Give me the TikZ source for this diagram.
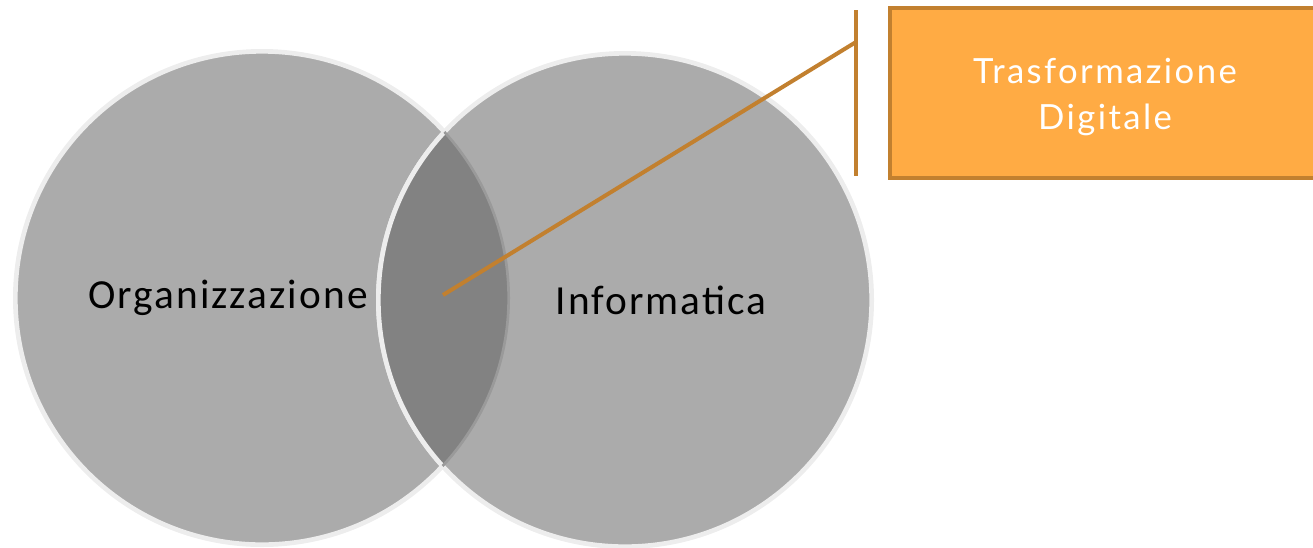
\documentclass[tikz,border=0pt]{standalone}
\usepackage{fontspec}
\setmainfont[LetterSpace=5]{Carlito}
\newfontfamily\boxfont[LetterSpace=7]{Lato}
\usetikzlibrary{positioning}
\definecolor{circfill}{HTML}{ABABAB}
\definecolor{lensfill}{HTML}{828282}
\definecolor{circline}{HTML}{EDEDED}
\definecolor{lensline}{HTML}{9A9A9A}
\definecolor{calloutline}{HTML}{C2802F}
\definecolor{boxfill}{HTML}{FFAB44}

\begin{document}
\begin{tikzpicture}
  [x=0.75pt,y=-0.75pt,
   venn/.style={circle,fill=circfill,draw=circline,line width=3.5pt,minimum size=370pt,inner sep=0pt},
   vennlabel/.style={font=\fontsize{31}{36}\selectfont,text=black},
   callout/.style={draw=calloutline,line width=3pt},
   tdbox/.style={rectangle,fill=boxfill,draw=calloutline,line width=3pt,minimum width=322pt,minimum height=127pt},
   tdtext/.style={align=center,text=white,font=\boxfont\fontsize{26}{35}\selectfont}]
  \clip (0,0) rectangle (1313,547);
  % the two sets
  \node[venn] (org) at (262,298) {};
  \node[venn] (inf) at (625,300) {};
  % overlap
  \begin{scope}
    \clip (org.center) circle (185pt);
    \fill[lensfill] (inf.center) circle (185pt);
    \draw[circline,line width=3.5pt] (inf.center) circle (185pt);
  \end{scope}
  \begin{scope}
    \clip (inf.center) circle (185pt);
    \draw[lensline,line width=2pt] (org.center) circle (185pt);
  \end{scope}
  \node[vennlabel] (orgl) at (228,298) {Organizzazione};
  \node[vennlabel] (infl) at (661,300) {Informatica};
  % callout
  \coordinate (tip) at (443,295);
  \coordinate (elbow) at (856,42);
  \coordinate (bartop) at (856,10);
  \coordinate (barbot) at (856,176);
  \draw[callout] (tip) -- (elbow);
  \draw[callout] (bartop) -- (barbot);
  \node[tdbox] (td) at (1105,93) {};
  \node[tdtext] (tdl) at (1105,97) {Trasformazione\\Digitale};
\end{tikzpicture}
\end{document}
